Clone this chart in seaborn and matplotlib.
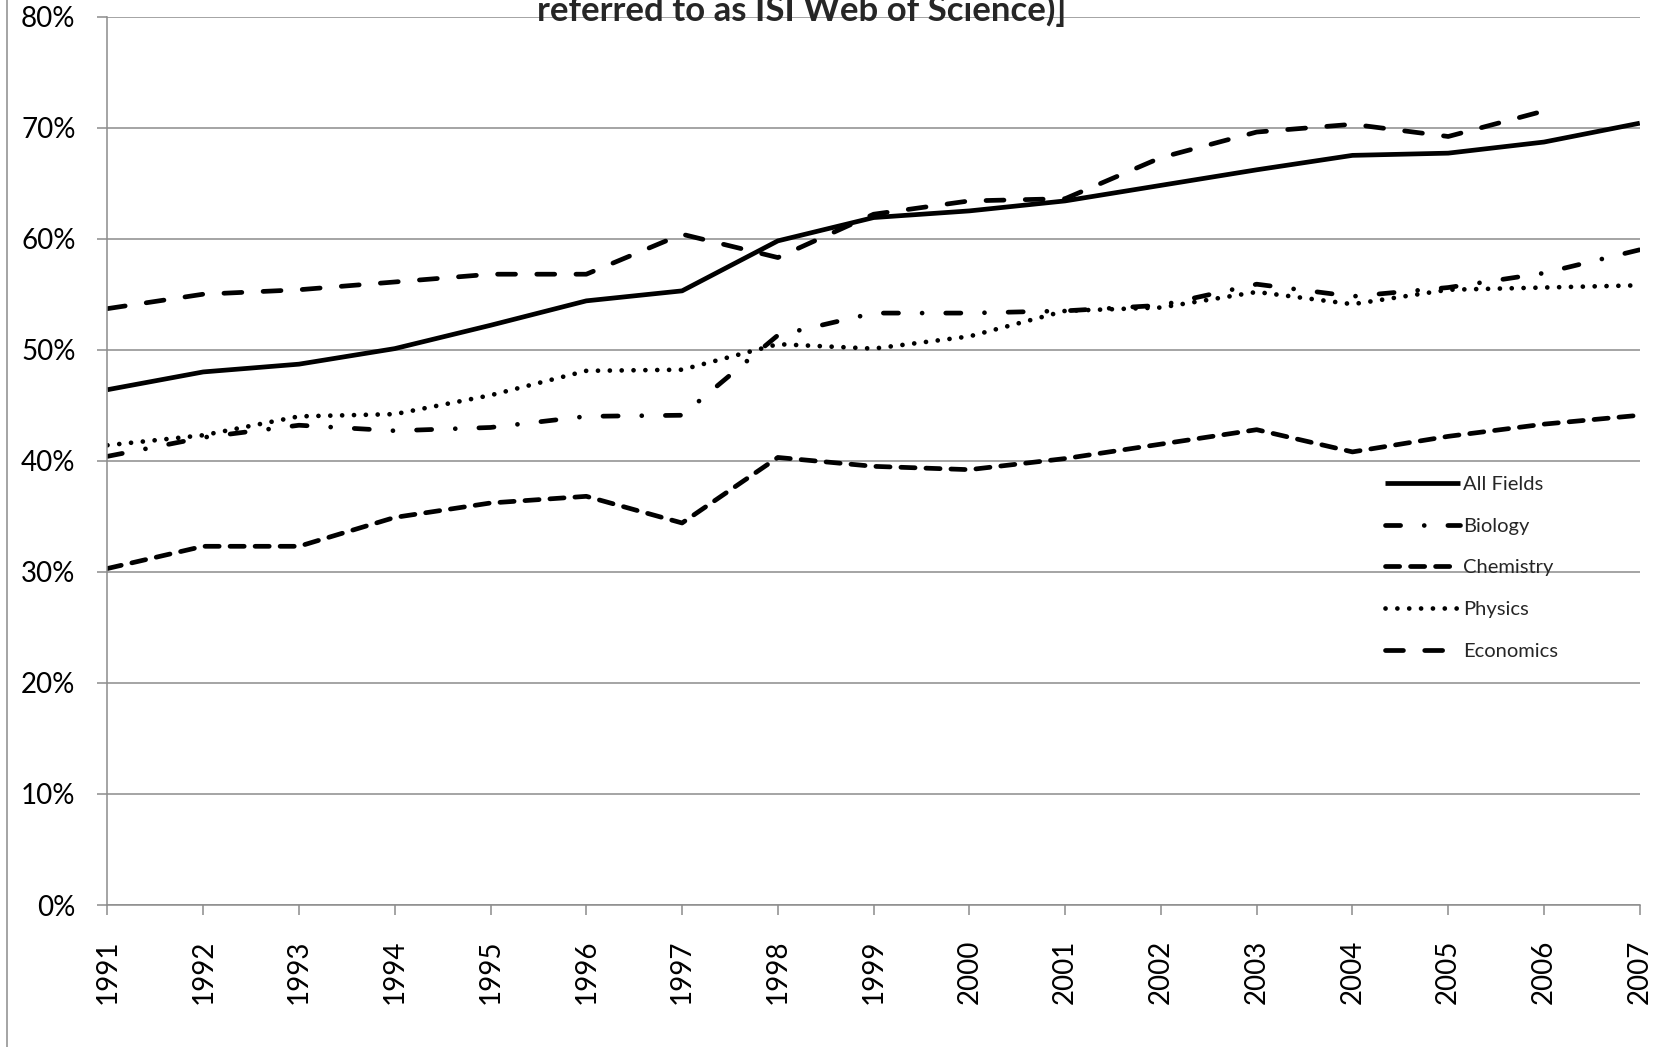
import numpy as np
import pandas as pd
import matplotlib
matplotlib.use("Agg")
import matplotlib.pyplot as plt
import seaborn as sns
from matplotlib.lines import Line2D
from matplotlib.ticker import PercentFormatter

# values (share in %)
years = list(range(1991, 2008))
all_fields = [46.4, 48.0, 48.7, 50.1, 52.2, 54.4, 55.3, 59.8, 61.9, 62.5,
              63.4, 64.8, 66.2, 67.5, 67.7, 68.7, 70.4]
biology = [40.4, 42.1, 43.2, 42.7, 43.0, 44.0, 44.1, 51.3, 53.3, 53.3,
           53.5, 54.0, 55.9, 54.8, 55.6, 56.9, 59.0]
chemistry = [30.3, 32.3, 32.3, 34.9, 36.2, 36.8, 34.4, 40.3, 39.5, 39.2,
             40.2, 41.5, 42.8, 40.8, 42.2, 43.3, 44.1]
physics = [41.4, 42.3, 44.0, 44.2, 45.9, 48.1, 48.2, 50.5, 50.1, 51.2,
           53.5, 53.8, 55.2, 54.1, 55.4, 55.6, 55.8]
economics = [53.7, 55.0, 55.4, 56.1, 56.8, 56.8, 60.4, 58.3, 62.2, 63.4,
              63.6, 67.3, 69.6, 70.3, 69.2, 71.5, np.nan]

series = {
    "All Fields": all_fields,
    "Biology": biology,
    "Chemistry": chemistry,
    "Physics": physics,
    "Economics": economics,
}
# dash patterns in linewidth units
styles = {
    "All Fields": "-",
    "Biology": (0, (3.2, 5.0, 0.01, 5.0)),
    "Chemistry": (0, (3.0, 2.3)),
    "Physics": (0, (0.01, 2.5)),
    "Economics": (0, (3.8, 4.5)),
}

sns.set_theme(style="white")
plt.rcParams["font.family"] = ["Lato", "DejaVu Sans"]

fig = plt.figure(figsize=(16.53, 10.47), dpi=100)
ax = fig.add_axes([0.065, 0.1356, 0.927, 0.8486])

grid_col = "#8c8c8c"
for name, vals in series.items():
    df = pd.DataFrame({"year": years, "share": vals}).dropna()
    sns.lineplot(data=df, x="year", y="share", ax=ax, color="black",
                 lw=3.4, ls=styles[name], label=name,
                 dash_capstyle="round", solid_capstyle="butt")

ax.set_xlim(1991, 2007)
ax.set_ylim(0, 80)
ax.set_xticks(years)
ax.set_xticklabels([str(y) for y in years], rotation=90)
ax.set_yticks(np.arange(0, 81, 10))
ax.yaxis.set_major_formatter(PercentFormatter(decimals=0))
ax.set_xlabel("")
ax.set_ylabel("")
ax.yaxis.grid(True, color=grid_col, lw=1.1)
ax.xaxis.grid(False)
ax.set_axisbelow(True)
for side in ["top", "right"]:
    ax.spines[side].set_visible(False)
for side in ["left", "bottom"]:
    ax.spines[side].set_color(grid_col)
    ax.spines[side].set_linewidth(1.1)
ax.tick_params(axis="both", which="major", direction="out", length=7,
               width=1.1, color=grid_col, labelsize=20, labelcolor="black")
ax.tick_params(axis="y", pad=16)
ax.tick_params(axis="x", pad=18)
ax.tick_params(left=True, bottom=True)

leg = ax.legend(loc="upper left", bbox_to_anchor=(0.834, 0.483), frameon=False,
                fontsize=14.5, handlelength=3.7, handletextpad=0.15,
                labelspacing=1.22, borderpad=0, borderaxespad=0)

# title, only its last line shows at the top edge
fig.text(0.485, 0.980, "referred to as ISI Web of Science)]", ha="center",
         va="baseline", fontsize=25, fontweight="bold")

# outer chart border on the left
fig.add_artist(Line2D([0.0045, 0.0045], [0, 1], transform=fig.transFigure,
                      color=grid_col, lw=1.1))

fig.savefig("out.png", dpi=100)
